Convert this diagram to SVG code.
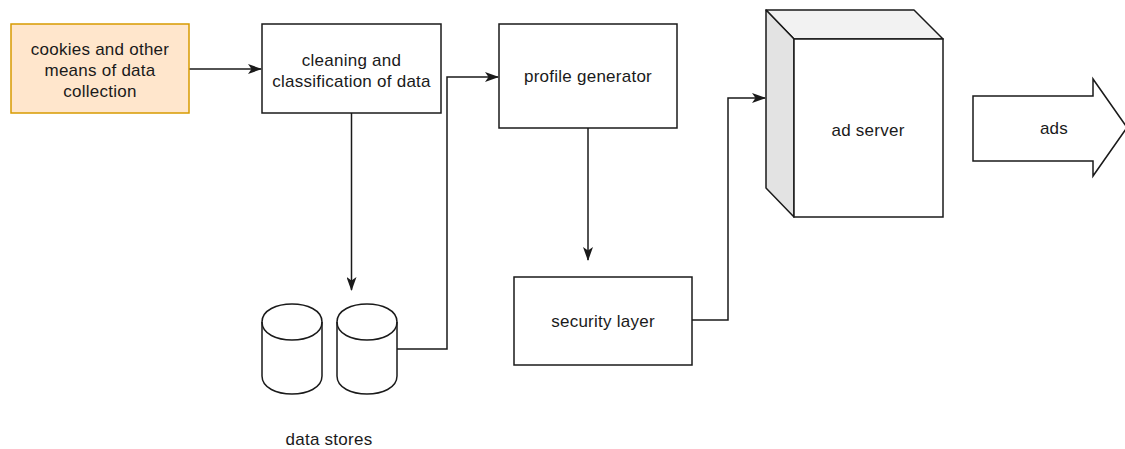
<svg xmlns="http://www.w3.org/2000/svg" width="1125" height="449" viewBox="0 0 1125 449">
  <style>
    .box { fill: #ffffff; stroke: #1a1a1a; stroke-width: 1.5; }
    .src { fill: #ffe6cc; stroke: #d79b00; stroke-width: 1.5; }
    .edge { fill: none; stroke: #1a1a1a; stroke-width: 1.5; }
    .label { font-family: "Liberation Sans", Arial, sans-serif; font-size: 17px; letter-spacing: 0.25px; fill: #1a1a1a; text-anchor: middle; }
  </style>
  <defs>
    <marker id="arrow" viewBox="0 0 14 10" refX="13" refY="5" markerWidth="14" markerHeight="10" markerUnits="userSpaceOnUse" orient="auto">
      <path d="M0,0 L14,5 L0,10 L3.5,5 Z" fill="#1a1a1a"/>
    </marker>
  </defs>
  <rect width="1125" height="449" fill="#ffffff"/>

  <!-- connectors -->
  <g id="connectors">
    <path class="edge" d="M189,69 L261,69" marker-end="url(#arrow)"/>
    <path class="edge" d="M351.5,113 L351.5,290" marker-end="url(#arrow)"/>
    <path class="edge" d="M397,349 L447,349 L447,77 L498,77" marker-end="url(#arrow)"/>
    <path class="edge" d="M588,128 L588,260" marker-end="url(#arrow)"/>
    <path class="edge" d="M692,320 L728,320 L728,98 L765,98" marker-end="url(#arrow)"/>
  </g>

  <!-- data collection source -->
  <g id="collection">
    <rect class="src" x="11" y="24" width="178" height="89"/>
    <text class="label" x="100" y="55">cookies and other</text>
    <text class="label" x="100" y="76">means of data</text>
    <text class="label" x="100" y="97">collection</text>
  </g>

  <g id="cleaning">
    <rect class="box" x="262" y="24" width="179" height="89"/>
    <text class="label" x="351.5" y="66">cleaning and</text>
    <text class="label" x="351.5" y="87">classification of data</text>
  </g>

  <g id="profile">
    <rect class="box" x="499" y="24" width="178" height="104"/>
    <text class="label" x="588" y="82">profile generator</text>
  </g>

  <g id="security">
    <rect class="box" x="514" y="277" width="178" height="88"/>
    <text class="label" x="603" y="327">security layer</text>
  </g>

  <!-- two storage cylinders -->
  <g id="datastores">
    <path class="box" d="M262,322 C262,298 322,298 322,322 L322,376 C322,400 262,400 262,376 Z"/>
    <path class="edge" d="M262,322 C262,346 322,346 322,322"/>
    <path class="box" d="M337,322 C337,298 397,298 397,322 L397,376 C397,400 337,400 337,376 Z"/>
    <path class="edge" d="M337,322 C337,346 397,346 397,322"/>
    <text class="label" x="329" y="445">data stores</text>
  </g>

  <!-- ad server cube -->
  <g id="adserver">
    <polygon points="766,10 914,10 943,39 794,39" fill="#f2f2f2" stroke="#1a1a1a" stroke-width="1.5" stroke-linejoin="round"/>
    <polygon points="766,10 794,39 794,217 766,188" fill="#e3e3e3" stroke="#1a1a1a" stroke-width="1.5" stroke-linejoin="round"/>
    <rect class="box" x="794" y="39" width="149" height="178"/>
    <text class="label" x="868" y="136">ad server</text>
  </g>

  <!-- outgoing ads arrow -->
  <g id="ads">
    <polygon class="box" points="973,96 1093,96 1093,79 1127,127.5 1093,176 1093,161 973,161"/>
    <text class="label" x="1054" y="134">ads</text>
  </g>
</svg>
